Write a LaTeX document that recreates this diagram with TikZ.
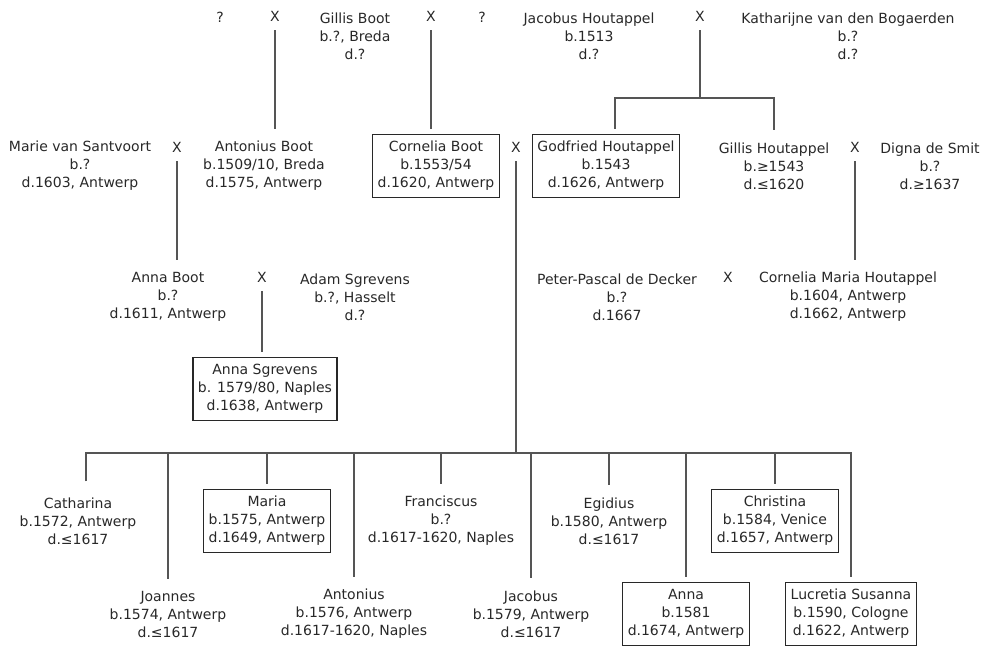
\documentclass[tikz,border=0pt]{standalone}
\usepackage{fontspec}
\setmainfont{DejaVu Sans}
\definecolor{inkgrey}{RGB}{40,40,40}
\definecolor{linegrey}{RGB}{85,85,85}

\begin{document}
\begin{tikzpicture}[
    x=1pt, y=-1pt,
    person/.style={
        align=center,
        text=inkgrey,
        font=\fontsize{14}{18}\selectfont,
        inner xsep=5pt,
        inner ysep=7pt
    },
    boxed/.style={
        person,
        draw=inkgrey,
        line width=1.3pt
    },
    wed/.style={
        text=inkgrey,
        font=\fontsize{14}{18}\selectfont,
        inner xsep=2pt,
        inner ysep=9pt
    },
    line/.style={draw=linegrey, line width=1.4pt, shorten >=5pt}
]
\useasboundingbox (0,0) rectangle (990,645);

% TOP GENERATION
\node[wed] (q1) at (220,17) {?};
\node[wed] (mA) at (275,16) {X};
\node[person] (gillis) at (355,36)
{Gillis Boot\\b.?, Breda\\d.?};
\node[wed] (mB) at (431,16) {X};
\node[wed] (q2) at (482,17) {?};

\node[person] (jacobus) at (589,36)
{Jacobus Houtappel\\b.1513\\d.?};
\node[wed] (mC) at (700,16) {X};
\node[person] (katharijne) at (848,36)
{Katharijne van den Bogaerden\\b.?\\d.?};

% SECOND GENERATION
\node[person] (marie) at (80,166)
{Marie van Santvoort\\b.?\\d.1603, Antwerp};
\node[wed] (mD) at (177,147) {X};
\node[person] (antonius) at (264,166)
{Antonius Boot\\b.1509/10, Breda\\d.1575, Antwerp};

\node[boxed] (corneliab) at (436,166)
{Cornelia Boot\\b.1553/54\\d.1620, Antwerp};
\node[wed] (mE) at (516,147) {X};
\node[boxed] (godfried) at (606,166)
{Godfried Houtappel\\b.1543\\d.1626, Antwerp};

\node[person] (gillish) at (774,166)
{Gillis Houtappel\\b.≥1543\\d.≤1620};
\node[wed] (mF) at (855,147) {X};
\node[person] (digna) at (930,166)
{Digna de Smit\\b.?\\d.≥1637};

\draw[line] (mA.south) -- (mA.south |- antonius.north);
\draw[line] (mB.south) -- (mB.south |- corneliab.north);
\coordinate (barJ) at (700,98);
\draw[line, shorten >=0pt] (mC.south) -- (barJ);
\draw[line] ([xshift=9pt]godfried.north) ++(0,-5) |- (barJ) -| (gillish.north);

% THIRD GENERATION
\node[person] (annab) at (168,297)
{Anna Boot\\b.?\\d.1611, Antwerp};
\node[wed] (mG) at (262,277) {X};
\node[person] (adam) at (355,297)
{Adam Sgrevens\\b.?, Hasselt\\d.?};
\node[boxed] (annas) at (265,389)
{Anna Sgrevens\\b. 1579/80, Naples\\d.1638, Antwerp};

\node[person] (peter) at (617,297)
{Peter-Pascal de Decker\\b.?\\d.1667};
\node[wed] (mH) at (728,277) {X};
\node[person] (corneliam) at (848,297)
{Cornelia Maria Houtappel\\b.1604, Antwerp\\d.1662, Antwerp};

\draw[line] (mD.south) -- (mD.south |- annab.north);
\draw[line] (mF.south) -- (mF.south |- corneliam.north);
\draw[line] (mG.south) -- (mG.south |- annas.north);

% CHILDREN OF CORNELIA BOOT AND GODFRIED HOUTAPPEL
\node[person] (catharina) at (78,521)
{Catharina\\b.1572, Antwerp\\d.≤1617};
\node[person] (joannes) at (168,614)
{Joannes\\b.1574, Antwerp\\d.≤1617};
\node[boxed] (maria) at (267,521)
{Maria\\b.1575, Antwerp\\d.1649, Antwerp};
\node[person] (antoniusj) at (354,614)
{Antonius\\b.1576, Antwerp\\d.1617-1620, Naples};
\node[person] (franciscus) at (441,521)
{Franciscus\\b.?\\d.1617-1620, Naples};
\node[person] (jacobusj) at (531,614)
{Jacobus\\b.1579, Antwerp\\d.≤1617};
\node[person] (egidius) at (609,521)
{Egidius\\b.1580, Antwerp\\d.≤1617};
\node[boxed] (anna) at (686,614)
{Anna\\b.1581\\d.1674, Antwerp};
\node[boxed] (christina) at (775,521)
{Christina\\b.1584, Venice\\d.1657, Antwerp};
\node[boxed] (lucretia) at (851,614)
{Lucretia Susanna\\b.1590, Cologne\\d.1622, Antwerp};

\coordinate (bar) at (516,453);
\draw[line, shorten >=0pt] (mE.south) -- (bar);
\draw[line, shorten <=9pt] ([xshift=8pt]catharina.north) |- (bar) -| (lucretia.north);
\foreach \kid in {joannes, maria, antoniusj, franciscus, jacobusj, egidius, anna, christina}
    \draw[line] (bar -| \kid.north) -- (\kid.north);

\end{tikzpicture}
\end{document}
